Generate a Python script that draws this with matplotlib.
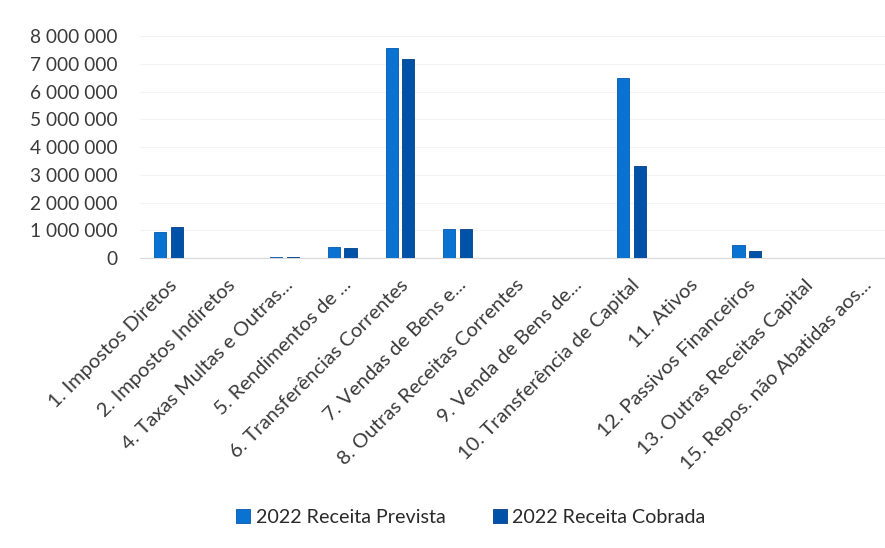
import matplotlib
matplotlib.use("Agg")
import matplotlib.pyplot as plt
from matplotlib.ticker import FuncFormatter
import numpy as np

plt.rcParams['font.family'] = ['Lato', 'DejaVu Sans']

categorias = [
    "1. Impostos Diretos",
    "2. Impostos Indiretos",
    "4. Taxas Multas e Outras...",
    "5. Rendimentos de ...",
    "6. Transferências Correntes",
    "7. Vendas de Bens e...",
    "8. Outras Receitas Correntes",
    "9. Venda de Bens de...",
    "10. Transferência de Capital",
    "11. Ativos",
    "12. Passivos Financeiros",
    "13. Outras Receitas Capital",
    "15. Repos. não Abatidas aos...",
]
receita_prevista = [950000, 0, 55000, 390000, 7570000, 1040000, 0, 0, 6510000, 0, 470000, 0, 0]
receita_cobrada = [1110000, 0, 55000, 380000, 7190000, 1040000, 0, 0, 3330000, 0, 260000, 0, 0]

cor_prevista = "#0A72D0"
cor_cobrada = "#0052A8"

fig = plt.figure(figsize=(8.85, 5.48), dpi=100)
ax = fig.add_axes([0.158, 0.529, 0.842, 0.405])

x = np.arange(len(categorias))
w = 0.21
ax.bar(x - 0.145, receita_prevista, w, color=cor_prevista, edgecolor="#0058B0", linewidth=0.6,
       label="2022 Receita Prevista", zorder=3)
ax.bar(x + 0.145, receita_cobrada, w, color=cor_cobrada, edgecolor="#003F88", linewidth=0.6,
       label="2022 Receita Cobrada", zorder=3)

ax.set_xlim(-0.5, 12.39)
ax.set_ylim(0, 8000000)
ax.set_yticks(range(0, 8000001, 1000000))
ax.yaxis.set_major_formatter(FuncFormatter(lambda v, p: f"{int(v):,}".replace(",", " ")))
ax.grid(axis='y', color="#F3F3F3", linewidth=0.8, zorder=0)

ax.set_xticks(x)
ax.set_xticklabels(categorias, rotation=45, ha='right', rotation_mode='anchor')
ax.tick_params(axis='both', length=0, colors="#3A3A3A")
ax.tick_params(axis='x', pad=13, labelsize=14.5)
ax.tick_params(axis='y', pad=16, labelsize=13.8)

for s in ['top', 'right', 'left']:
    ax.spines[s].set_visible(False)
ax.spines['bottom'].set_color("#D9D9D9")

fig.legend(loc='center', bbox_to_anchor=(0.532, 0.056), ncol=2, frameon=False,
           fontsize=14.2, handlelength=0.7, handleheight=0.7, handletextpad=0.3,
           columnspacing=2.4, labelcolor="#2A2A2A")

fig.savefig("out.png", dpi=100, facecolor="white")
